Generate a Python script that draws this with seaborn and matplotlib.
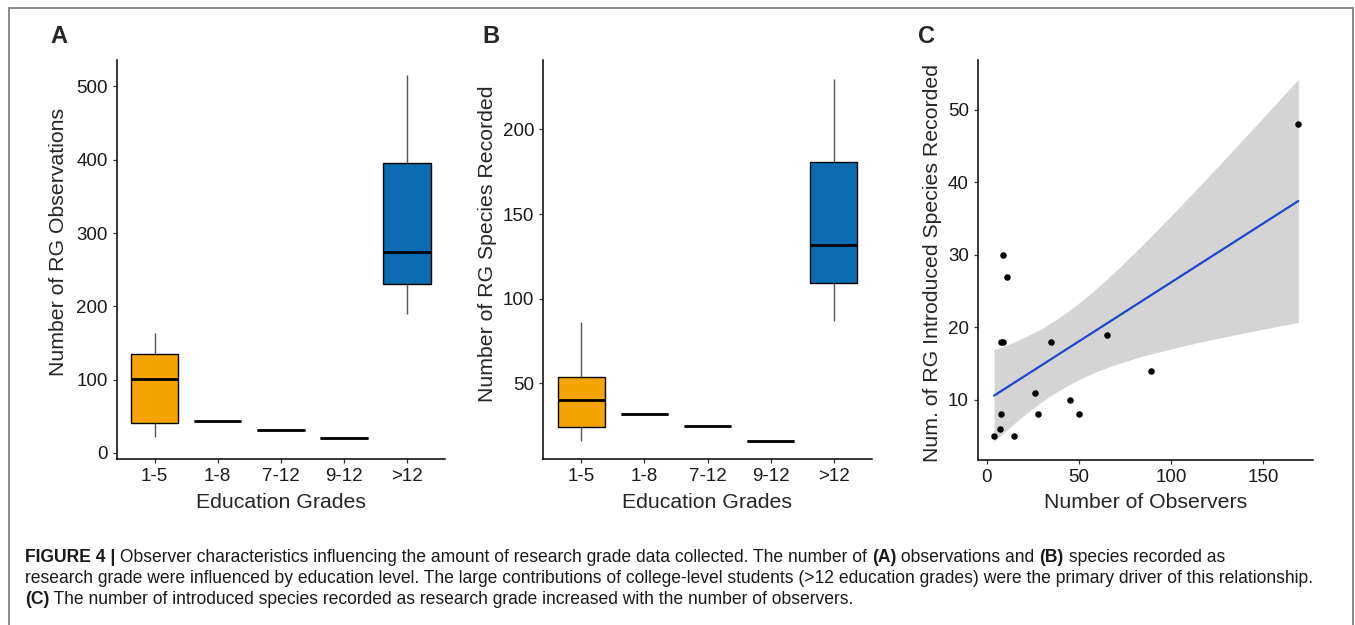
import numpy as np
import pandas as pd
import matplotlib
matplotlib.use("Agg")
import matplotlib.pyplot as plt
from matplotlib.lines import Line2D
import seaborn as sns

# ---------------- data ----------------
edu_grades = ["1-5", "1-8", "7-12", "9-12", ">12"]

# Panel A: research-grade observations per education group
obs_1_5 = [22, 41, 101, 135, 163]
obs_1_8 = [43]
obs_7_12 = [31]
obs_9_12 = [21]
obs_gt12 = [190, 231, 274, 395, 515]

# Panel B: research-grade species recorded per education group
spp_1_5 = [16, 24, 40, 54, 86]
spp_1_8 = [32]
spp_7_12 = [25]
spp_9_12 = [16]
spp_gt12 = [87, 109, 132, 181, 230]

# Panel C: observers vs introduced species recorded
observers = [4, 7, 8, 8, 9, 9, 11, 15, 26, 28, 35, 45, 50, 65, 89, 169]
introduced_species = [5, 6, 8, 18, 18, 30, 27, 5, 11, 8, 18, 10, 8, 19, 14, 48]

a_yticks = [0, 100, 200, 300, 400, 500]
b_yticks = [50, 100, 150, 200]
c_yticks = [10, 20, 30, 40, 50]
c_xticks = [0, 50, 100, 150]

caption_lines = [
    [("FIGURE 4 |", "bold"),
     (" Observer characteristics influencing the amount of research grade data collected. The number of ", "normal"),
     ("(A)", "bold"), (" observations and ", "normal"), ("(B)", "bold"),
     (" species recorded as", "normal")],
    [("research grade were influenced by education level. The large contributions of college-level students "
      "(>12 education grades) were the primary driver of this relationship.", "normal")],
    [("(C)", "bold"),
     (" The number of introduced species recorded as research grade increased with the number of observers.", "normal")],
]

# ---------------- style ----------------
sns.set_theme(style="white")
plt.rcParams["font.family"] = ["Liberation Sans", "DejaVu Sans"]

W, H = 1355, 625
fig = plt.figure(figsize=(W / 100, H / 100), dpi=100)

orange = "#F5A300"
blue = "#0B6CB2"
palette = {"1-5": orange, "1-8": "black", "7-12": "black", "9-12": "black", ">12": blue}


def long_df(groups):
    rows = []
    for g, vals in zip(edu_grades, groups):
        for v in vals:
            rows.append((g, v))
    return pd.DataFrame(rows, columns=["grade", "value"])


df_a = long_df([obs_1_5, obs_1_8, obs_7_12, obs_9_12, obs_gt12])
df_b = long_df([spp_1_5, spp_1_8, spp_7_12, spp_9_12, spp_gt12])


def px_axes(left, top, right, bottom):
    return fig.add_axes([left / W, 1 - bottom / H, (right - left) / W, (bottom - top) / H])


def style_axes(ax):
    for s in ["top", "right"]:
        ax.spines[s].set_visible(False)
    for s in ["left", "bottom"]:
        ax.spines[s].set_color("black")
        ax.spines[s].set_linewidth(1.1)
    ax.tick_params(axis="both", which="both", length=3, width=0.9, color="#333333",
                   labelsize=13.5, labelcolor="#1a1a1a", pad=3.5, left=True, bottom=True)
    ax.grid(False)


def box_panel(ax, df, yticks, ylim, ylabel):
    sns.boxplot(data=df, x="grade", y="value", hue="grade", order=edu_grades,
                hue_order=edu_grades, palette=palette, legend=False, width=0.75,
                showcaps=False, fliersize=0, linecolor="black", linewidth=1.0,
                whiskerprops=dict(color="#555555", linewidth=1.0),
                medianprops=dict(color="black", linewidth=2.0),
                boxprops=dict(edgecolor="black", linewidth=1.0),
                saturation=1, ax=ax)
    ax.set_xlim(-0.6, 4.6)
    ax.set_ylim(*ylim)
    ax.set_yticks(yticks)
    ax.set_xlabel("Education Grades", fontsize=15.3, va="center")
    ax.set_ylabel(ylabel, fontsize=15.3, va="center")
    ax.xaxis.set_label_coords(0.5, -0.108)
    style_axes(ax)


# Panel A
ax_a = px_axes(116.7, 60, 445, 459.3)
box_panel(ax_a, df_a, a_yticks, (-8.6, 536), "Number of RG Observations")
ax_a.yaxis.set_label_coords((58 - 116.7) / 328.3, 0.545)

# Panel B
ax_b = px_axes(543.3, 60, 871.7, 459.3)
box_panel(ax_b, df_b, b_yticks, (5.1, 241), "Number of RG Species Recorded")
ax_b.yaxis.set_label_coords((488 - 543.3) / 328.4, 0.539)

# Panel C
ax_c = px_axes(978, 60, 1313.3, 460)
x = np.asarray(observers, dtype=float)
y = np.asarray(introduced_species, dtype=float)
n = len(x)
b1, b0 = np.polyfit(x, y, 1)
xs = np.linspace(x.min(), x.max(), 100)
yhat = b0 + b1 * xs
resid = y - (b0 + b1 * x)
s = np.sqrt(np.sum(resid ** 2) / (n - 2))
sxx = np.sum((x - x.mean()) ** 2)
se = s * np.sqrt(1 / n + (xs - x.mean()) ** 2 / sxx)
t_crit = 2.1448  # 97.5% t quantile, 14 df
ax_c.fill_between(xs, yhat - t_crit * se, yhat + t_crit * se, color="#D4D4D4", lw=0, zorder=1)
sns.regplot(x=x, y=y, ci=None, ax=ax_c, truncate=True,
            scatter_kws=dict(s=22, color="black", alpha=1, zorder=3, linewidths=0),
            line_kws=dict(color="#1f45d0", lw=1.6, zorder=2))
ax_c.set_xlim(-4.7, 177.1)
ax_c.set_ylim(1.7, 56.9)
ax_c.set_xticks(c_xticks)
ax_c.set_yticks(c_yticks)
ax_c.set_xlabel("Number of Observers", fontsize=15.3, va="center")
ax_c.set_ylabel("Num. of RG Introduced Species Recorded", fontsize=15.3, va="center")
ax_c.xaxis.set_label_coords(0.5, -0.106)
ax_c.yaxis.set_label_coords((933 - 978) / 335.3, 0.493)
style_axes(ax_c)

# Panel letters
for letter, xpx in [("A", 50), ("B", 482), ("C", 918)]:
    fig.text(xpx / W, 1 - 43 / H, letter, fontsize=17, fontweight="bold", va="baseline", ha="left")

# Frame lines
frame_kw = dict(color="#808080", lw=1.3, transform=fig.transFigure)
fig.add_artist(Line2D([9 / W, 1353 / W], [1 - 8 / H, 1 - 8 / H], **frame_kw))
fig.add_artist(Line2D([9 / W, 9 / W], [1 - 8 / H, 0], **frame_kw))
fig.add_artist(Line2D([1353 / W, 1353 / W], [1 - 8 / H, 0], **frame_kw))

# Caption with mixed weights
renderer = fig.canvas.get_renderer()
cap_size = 12.65


def text_width(s, weight):
    t1 = fig.text(0, 0, "|" + s + "|", fontsize=cap_size, fontweight=weight)
    t2 = fig.text(0, 0, "||", fontsize=cap_size, fontweight=weight)
    w = t1.get_window_extent(renderer).width - t2.get_window_extent(renderer).width
    t1.remove()
    t2.remove()
    return w


for i, line in enumerate(caption_lines):
    xpx = 25
    ybase = 562 + i * 21
    for s_, weight in line:
        fig.text(xpx / W, 1 - ybase / H, s_, fontsize=cap_size, fontweight=weight,
                 va="baseline", ha="left", color="#1a1a1a")
        xpx += text_width(s_, weight)

fig.savefig("out.png", dpi=100)
